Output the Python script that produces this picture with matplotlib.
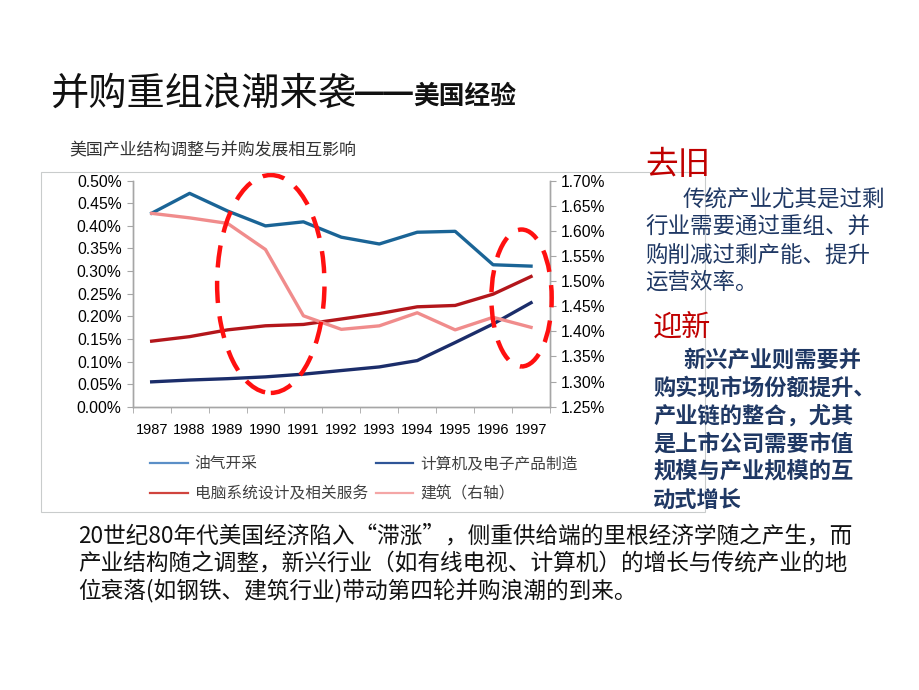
import matplotlib
matplotlib.use("Agg")
import matplotlib.pyplot as plt
from matplotlib.patches import Ellipse, Rectangle
from matplotlib.lines import Line2D
from matplotlib.ticker import FuncFormatter, MultipleLocator, FixedLocator

plt.rcParams['font.family'] = ['Liberation Sans', 'Noto Sans CJK SC', 'DejaVu Sans']
CJK = ['Noto Sans CJK SC', 'DejaVu Sans']

years = ['1987', '1988', '1989', '1990', '1991', '1992', '1993', '1994', '1995', '1996', '1997']
oil = [0.428, 0.472, 0.433, 0.400, 0.409, 0.375, 0.360, 0.386, 0.388, 0.314, 0.311]
computer_mfg = [0.055, 0.059, 0.062, 0.066, 0.072, 0.080, 0.088, 0.102, 0.142, 0.183, 0.230]
computer_services = [0.145, 0.155, 0.170, 0.179, 0.182, 0.194, 0.206, 0.221, 0.224, 0.249, 0.288]
construction = [1.635, 1.626, 1.615, 1.563, 1.431, 1.404, 1.411, 1.437, 1.403, 1.428, 1.408]

names = ['油气开采', '计算机及电子产品制造', '电脑系统设计及相关服务', '建筑（右轴）']
line_colors = ['#1A6496', '#1B2D6A', '#B3161B', '#F08C8C']
legend_colors = ['#5B8FC7', '#2F5597', '#D0443E', '#F4A6A6']

W, H = 920, 690
fig = plt.figure(figsize=(W / 100, H / 100), dpi=100)

def fx(px):
    return px / W

def fy(py):
    return 1 - py / H

# chart frame
fig.patches.append(Rectangle((fx(41), fy(512)), fx(705) - fx(41), fy(172) - fy(512),
                             transform=fig.transFigure, fill=False, edgecolor='#C9CCCC', lw=0.8))

ax = fig.add_axes([fx(132.7), fy(406.7), fx(550) - fx(132.7), fy(180.7) - fy(406.7)])
ax2 = ax.twinx()
x = list(range(len(years)))

ax.plot(x, oil, color=line_colors[0], lw=2.4, zorder=3)
ax.plot(x, computer_mfg, color=line_colors[1], lw=2.4, zorder=3)
ax.plot(x, computer_services, color=line_colors[2], lw=2.4, zorder=3)
ax2.plot(x, construction, color=line_colors[3], lw=2.4, zorder=3)

ax.set_xlim(-0.5, len(years) - 0.5)
ax.set_ylim(0, 0.5)
ax2.set_ylim(1.25, 1.70)
ax.yaxis.set_major_locator(MultipleLocator(0.05))
ax2.yaxis.set_major_locator(MultipleLocator(0.05))
ax.yaxis.set_major_formatter(FuncFormatter(lambda v, p: f'{v:.2f}%'))
ax2.yaxis.set_major_formatter(FuncFormatter(lambda v, p: f'{v:.2f}%'))

ax.set_xticks(x)
ax.set_xticklabels(years)
ax.xaxis.set_minor_locator(FixedLocator([i - 0.5 for i in range(len(years) + 1)]))
ax.tick_params(axis='x', which='major', length=0, pad=12, labelsize=10.5)
ax.tick_params(axis='x', which='minor', length=4, color='#A6A6A6', direction='out')
ax.tick_params(axis='y', length=4, color='#A6A6A6', labelsize=11.3, pad=4)
ax2.tick_params(axis='y', length=4, color='#A6A6A6', labelsize=11.3, pad=4)

for a in (ax, ax2):
    a.spines['top'].set_visible(False)
    for s in ('left', 'right', 'bottom'):
        a.spines[s].set_color('#A6A6A6')
        a.spines[s].set_linewidth(1.0)
    a.patch.set_visible(False)

# red dashed ellipses
for cx, cy, w, h in [(3.14, 0.2715, 2.83, 0.482), (9.75, 0.2405, 1.59, 0.303)]:
    e = Ellipse((cx, cy), w, h, fill=False, edgecolor='#FF1010', lw=3.2,
                linestyle=(0, (5, 3)), clip_on=False, zorder=5)
    ax2.add_patch(e)
    e.set_transform(ax.transData)

# legend
handles = [Line2D([], [], color=c, lw=1.6) for c in legend_colors]
order = [0, 2, 1, 3]
leg = fig.legend([handles[i] for i in order], [names[i] for i in order], ncol=2,
                 loc='upper left', bbox_to_anchor=(fx(150), fy(455)), frameon=False,
                 prop={'family': CJK, 'size': 11.3}, handlelength=2.4, handletextpad=0.45,
                 columnspacing=0.5, labelspacing=0.85, borderpad=0, borderaxespad=0)
for t in leg.get_texts():
    t.set_color('#404040')

# titles
fig.text(fx(50), fy(105), '并购重组浪潮来袭', family=CJK, fontsize=27.5, color='#111111', va='baseline')
fig.text(fx(355), fy(104), '━━', family=CJK, fontsize=20.8, color='#111111', va='baseline')
fig.text(fx(413), fy(104), '美国经验', family=CJK, fontsize=18.5, weight='bold', color='#111111', va='baseline')
fig.text(fx(69), fy(150), '美国产业结构调整与并购发展相互影响', family=CJK, fontsize=12.2,
         color='#333333', va='center')

# right side text
fig.text(fx(645), fy(165), '去旧', family=CJK, fontsize=23.5, color='#C00000', va='center')
p1 = ['传统产业尤其是过剩', '行业需要通过重组、并', '购削减过剩产能、提升', '运营效率。']
for i, s in enumerate(p1):
    fig.text(fx(683 if i == 0 else 645), fy(200 + 27.4 * i), s, family=CJK, fontsize=16.2,
             color='#1F3864', weight='medium', va='center')

fig.text(fx(653), fy(328), '迎新', family=CJK, fontsize=21, color='#C00000', va='center')
p2 = ['新兴产业则需要并', '购实现市场份额提升、', '产业链的整合，尤其', '是上市公司需要市值',
      '规模与产业规模的互', '动式增长']
for i, s in enumerate(p2):
    fig.text(fx(683 if i == 0 else 653), fy(360 + 28 * i), s, family=CJK, fontsize=16,
             color='#1F3864', weight='bold', va='center')

# bottom paragraph
p3 = ['20世纪80年代美国经济陷入“滞涨”，侧重供给端的里根经济学随之产生，而',
      '产业结构随之调整，新兴行业（如有线电视、计算机）的增长与传统产业的地',
      '位衰落(如钢铁、建筑行业)带动第四轮并购浪潮的到来。']
for i, s in enumerate(p3):
    fig.text(fx(78), fy(536 + 27.5 * i), s, family=CJK, fontsize=16.3, color='#111111', va='center')

fig.savefig('out.png', dpi=100)
